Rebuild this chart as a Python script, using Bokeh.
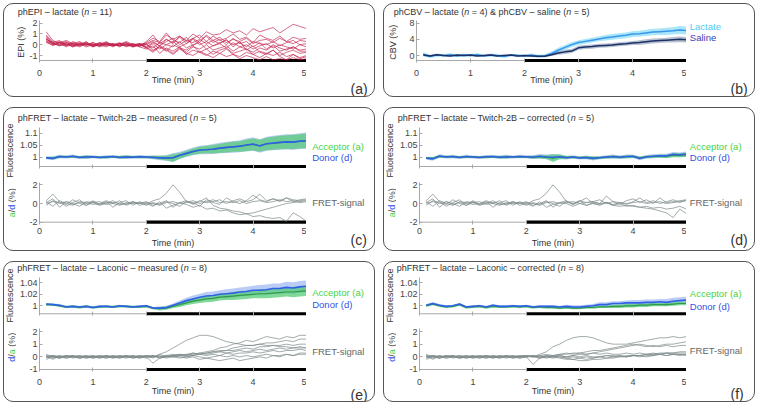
import math
from bokeh.plotting import figure
from bokeh.models import Range1d, FixedTicker, CustomJSTickFormatter, Label, Span
from bokeh.layouts import column, row
from bokeh.embed import file_html
from bokeh.resources import INLINE

# ---------------- data ----------------
T = [0.125, 0.25, 0.375, 0.5, 0.625, 0.75, 0.875, 1.0, 1.125, 1.25,
     1.375, 1.5, 1.625, 1.75, 1.875, 2.0, 2.125, 2.25, 2.375, 2.5,
     2.625, 2.75, 2.875, 3.0, 3.125, 3.25, 3.375, 3.5, 3.625, 3.75,
     3.875, 4.0, 4.125, 4.25, 4.375, 4.5, 4.625, 4.75, 4.875, 5.0]
STIM = [2.0, 5.0]
XTICKS = [0, 1, 2, 3, 4, 5]

# (a) phEPI - lactate, 11 animals, EPI (%)
EPI_1 = [0.9, 0.3, 0.2, 0.4, 0.1, 0.3, -0.1, 0.2, 0.0, 0.3, -0.1, 0.1, 0.2, -0.2, 0.0,
         0.1, 0.4, 0.2, 0.9, 0.5, 0.8, 0.4, 1.0, 0.6, 1.2, 0.9, 1.0, 1.4, 1.1, 1.3, 0.9, 1.5, 1.2, 1.4, 1.6, 1.1, 1.5, 1.9, 1.7, 1.5]
EPI_2 = [0.5, 0.2, 0.4, -0.1, 0.2, 0.0, 0.3, -0.2, 0.1, 0.2, -0.1, 0.0, 0.3, 0.0, -0.2,
         0.3, 0.9, 0.1, 0.5, 0.2, 0.7, 0.1, 0.6, 0.9, 0.3, 0.8, 0.4, 0.6, 1.0, 0.5, 0.7, 0.2, 0.9, 0.6, 0.4, 0.8, 0.3, 0.7, 0.5, 0.6]
EPI_3 = [1.2, 0.4, 0.1, 0.3, 0.0, 0.2, 0.1, -0.1, 0.2, 0.0, 0.1, -0.2, 0.1, 0.0, 0.1,
         -0.2, 0.2, -0.1, 0.3, 0.6, 0.0, 0.4, 0.2, 0.5, 0.1, 0.4, 0.7, 0.2, 0.5, 0.3, 0.6, 0.1, 0.4, 0.5, 0.2, 0.6, 0.3, 0.1, 0.4, 0.3]
EPI_4 = [0.6, 0.0, 0.3, 0.1, -0.2, 0.1, 0.0, 0.2, -0.1, 0.1, 0.0, 0.2, -0.1, 0.1, -0.1,
         0.0, -0.3, 0.2, 0.0, 0.3, -0.2, 0.1, 0.5, 0.0, 0.3, -0.1, 0.2, 0.4, 0.0, 0.2, -0.2, 0.3, 0.1, 0.0, 0.3, -0.1, 0.2, 0.4, 0.0, 0.1]
EPI_5 = [0.4, 0.1, -0.1, 0.2, 0.0, -0.2, 0.1, 0.0, -0.1, 0.2, 0.0, -0.1, 0.1, -0.2, 0.0,
         -0.3, 0.1, -0.4, 0.0, -0.2, 0.3, -0.3, 0.0, 0.2, -0.4, -0.1, 0.1, -0.3, 0.2, -0.2, 0.0, -0.4, -0.1, 0.1, -0.3, 0.0, -0.2, -0.4, 0.0, -0.2]
EPI_6 = [0.3, -0.1, 0.2, 0.0, -0.1, 0.1, -0.2, 0.0, 0.1, -0.1, 0.0, 0.1, -0.2, 0.0, -0.1,
         0.1, -0.5, -0.2, -0.6, 0.0, -0.3, -0.7, -0.2, -0.4, 0.0, -0.5, -0.3, -0.1, -0.6, -0.2, -0.4, -0.7, -0.3, -0.5, -0.1, -0.6, -0.4, -0.2, -0.5, -0.4]
EPI_7 = [0.8, 0.2, 0.0, -0.1, 0.3, 0.0, 0.1, -0.2, 0.0, 0.1, -0.1, 0.0, 0.2, -0.1, 0.0,
         -0.2, -0.6, -0.1, -0.4, -0.8, -0.3, -0.5, -0.1, -0.7, -0.4, -0.9, -0.5, -0.3, -0.8, -0.6, -0.4, -0.9, -0.6, -0.8, -0.5, -1.0, -0.7, -0.5, -0.8, -0.7]
EPI_8 = [0.2, 0.0, 0.2, -0.2, 0.1, -0.1, 0.0, 0.1, -0.2, 0.0, 0.1, -0.1, 0.0, 0.1, -0.2,
         -0.4, -0.1, -0.8, -0.3, -0.6, -0.2, -0.9, -0.5, -0.7, -1.0, -0.6, -0.8, -0.4, -0.9, -1.1, -0.7, -0.9, -1.2, -0.8, -1.0, -0.7, -1.1, -0.9, -1.2, -1.0]
EPI_9 = [0.5, 0.2, -0.1, 0.1, -0.2, 0.0, 0.2, -0.1, 0.0, -0.2, 0.1, -0.1, 0.0, -0.2, 0.1,
         -0.3, -0.7, -0.2, -0.5, -0.9, -0.4, -0.8, -1.0, -0.6, -0.9, -1.2, -0.8, -1.1, -0.9, -1.3, -1.0, -1.2, -1.4, -1.1, -1.4, -1.3, -1.4, -1.2, -1.4, -1.3]
EPI_10 = [0.7, 0.1, 0.2, 0.0, 0.1, -0.1, 0.2, 0.0, -0.1, 0.1, -0.2, 0.1, 0.0, -0.1, 0.0,
          0.2, 0.6, 0.3, 1.1, 0.4, 0.2, 0.7, -0.1, 0.4, 0.8, 0.2, 0.5, 0.0, 0.6, 0.1, 0.3, -0.2, 0.2, -0.4, 0.0, -0.3, -0.5, -0.2, -0.6, -0.6]
EPI_11 = [0.3, 0.1, 0.0, 0.2, -0.1, 0.1, 0.0, -0.1, 0.2, 0.0, -0.1, 0.1, -0.1, 0.0, 0.1,
          0.0, 0.3, -0.1, 0.5, 0.1, 0.8, 0.3, 0.6, 0.2, 0.9, 0.4, 0.1, 0.5, -0.2, 0.3, -0.5, -0.1, -0.7, -0.9, -0.5, -1.1, -1.4, -0.9, -1.3, -1.1]
EPI = [EPI_1, EPI_2, EPI_3, EPI_4, EPI_5, EPI_6, EPI_7, EPI_8, EPI_9, EPI_10, EPI_11]

# (b) phCBV - lactate (n=4) and saline (n=5): mean and SEM, CBV (%)
LAC = [0.3, -0.2, 0.1, 0.0, 0.2, -0.1, 0.1, 0.0, 0.2, -0.1, 0.1, 0.0, -0.2, 0.1, 0.0, -0.1, 0.1, -0.2, -0.1,
       0.5, 1.3, 2.0, 2.7, 3.2, 3.5, 3.8, 4.1, 4.4, 4.6, 4.8, 5.0, 5.3, 5.4, 5.6, 5.8, 5.9, 6.0, 6.1, 6.3, 6.2]
LAC_SE = [0.5, 0.4, 0.4, 0.3, 0.4, 0.3, 0.4, 0.3, 0.4, 0.3, 0.4, 0.3, 0.4, 0.3, 0.4, 0.3, 0.4, 0.4, 0.4,
          0.5, 0.6, 0.6, 0.6, 0.6, 0.6, 0.6, 0.6, 0.7, 0.7, 0.7, 0.7, 0.7, 0.7, 0.8, 0.8, 0.8, 0.9, 0.9, 1.0, 1.0]
SAL = [0.1, -0.1, 0.2, 0.0, -0.1, 0.1, 0.0, 0.1, -0.1, 0.0, 0.1, -0.1, 0.0, 0.1, -0.1, 0.0, -0.1, -0.2, -0.2,
       0.2, 0.6, 0.9, 1.1, 1.9, 2.1, 2.2, 2.4, 2.5, 2.6, 2.8, 2.9, 3.1, 3.2, 3.4, 3.6, 3.7, 3.8, 3.9, 4.0, 3.9]
SAL_SE = [0.2, 0.2, 0.2, 0.2, 0.2, 0.2, 0.2, 0.2, 0.2, 0.2, 0.2, 0.2, 0.2, 0.2, 0.2, 0.2, 0.2, 0.2, 0.2,
          0.3, 0.4, 0.5, 0.5, 0.5, 0.5, 0.5, 0.5, 0.5, 0.5, 0.5, 0.5, 0.5, 0.6, 0.6, 0.6, 0.6, 0.6, 0.7, 0.7, 0.7]

# (c) Twitch-2B measured: fluorescence mean / SEM
C_DON = [0.997, 0.995, 1.003, 1.001, 1.004, 0.999, 1.001, 1.002, 0.999, 1.001, 1.003, 0.999, 1.001, 1.000, 1.002, 1.001, 0.999, 0.997, 0.997,
         0.998, 1.008, 1.016, 1.024, 1.030, 1.031, 1.034, 1.038, 1.041, 1.043, 1.046, 1.051, 1.055, 1.047, 1.056, 1.059, 1.062, 1.064, 1.063, 1.067, 1.069]
C_ACC = [0.998, 0.996, 1.002, 1.002, 1.003, 1.000, 1.001, 1.001, 1.000, 1.000, 1.002, 1.000, 1.001, 1.001, 1.001, 1.000, 1.000, 0.998, 0.996,
         0.997, 1.006, 1.015, 1.023, 1.029, 1.032, 1.033, 1.037, 1.040, 1.044, 1.045, 1.050, 1.053, 1.048, 1.055, 1.058, 1.061, 1.063, 1.064, 1.066, 1.068]
C_ACC_SE = [0.004, 0.006, 0.005, 0.004, 0.005, 0.004, 0.006, 0.004, 0.004, 0.005, 0.004, 0.005, 0.006, 0.004, 0.005, 0.004, 0.006, 0.008, 0.010,
            0.016, 0.012, 0.012, 0.013, 0.015, 0.016, 0.018, 0.019, 0.020, 0.021, 0.022, 0.024, 0.025, 0.025, 0.026, 0.027, 0.028, 0.029, 0.030, 0.030, 0.031]
C_DON_SE = [0.006, 0.008, 0.007, 0.006, 0.007, 0.006, 0.008, 0.006, 0.006, 0.007, 0.006, 0.007, 0.008, 0.006, 0.007, 0.006, 0.008, 0.010, 0.012,
            0.018, 0.015, 0.015, 0.016, 0.018, 0.019, 0.021, 0.022, 0.023, 0.024, 0.025, 0.027, 0.028, 0.028, 0.029, 0.030, 0.031, 0.032, 0.033, 0.033, 0.034]
# (c) FRET-signal a/d (%)
C_R1 = [0.3, 1.0, 0.2, -0.3, 0.1, 0.4, -0.2, 0.3, -0.1, 0.2, -0.4, 0.1, 0.3, -0.2, 0.2,
        -0.1, 0.3, 0.5, 1.1, 2.0, 1.2, 0.2, 0.1, -0.3, 0.4, 0.1, -0.1, 0.6, 0.2, 0.0, 0.3, 0.9, 0.4, 0.2, 0.5, 0.3, 0.6, 0.2, 0.4, 0.5]
C_R2 = [0.1, 0.5, -0.4, 0.2, 0.0, -0.3, 0.2, 0.1, -0.2, 0.0, 0.3, -0.1, 0.0, 0.2, -0.2,
        0.0, -0.3, 0.2, -0.5, -0.2, 0.1, -0.1, -0.4, -0.2, -0.6, -0.5, -0.8, -0.7, -1.0, -1.2, -1.1, -1.4, -1.3, -1.5, -1.6, -1.5, -1.9, -1.0, -1.4, -1.9]
C_R3 = [-0.2, 0.3, 0.1, -0.1, 0.4, 0.0, -0.2, 0.1, 0.2, -0.1, 0.0, 0.3, -0.2, 0.1, 0.0,
        0.2, -0.2, 0.0, 0.3, -0.4, 0.1, 0.3, -0.1, 0.2, 0.6, -0.2, -0.5, -0.6, -0.8, -0.9, -1.1, -1.0, -0.8, -0.6, -0.4, -0.2, 0.0, 0.1, 0.2, 0.3]
C_R4 = [0.2, -0.3, 0.3, 0.0, -0.2, 0.2, 0.1, -0.1, 0.0, 0.3, 0.0, -0.2, 0.1, 0.0, 0.1,
        -0.2, 0.1, -0.1, 0.2, 0.0, -0.3, 0.2, 0.0, 0.3, 0.1, 0.2, 0.4, 0.0, 0.3, 0.5, 0.2, 0.4, 1.0, 0.3, 0.5, 0.2, 0.6, 0.4, 0.3, 0.4]
C_R5 = [0.0, 0.2, 0.0, 0.2, -0.1, 0.1, 0.0, 0.2, -0.1, 0.1, 0.1, 0.0, -0.1, 0.2, 0.0,
        0.1, 0.0, -0.2, 0.1, 0.2, 0.0, 0.1, 0.3, 0.0, 0.2, 0.4, 0.1, 0.2, 0.1, 0.3, 0.0, 0.2, 0.3, 0.1, 0.2, 0.4, 0.2, 0.3, 0.1, 0.2]
C_RATIO = [C_R1, C_R2, C_R3, C_R4, C_R5]

# (d) Twitch-2B corrected
D_DON = [0.996, 0.993, 1.005, 1.001, 1.003, 0.999, 1.003, 1.001, 0.999, 1.002, 1.003, 1.000, 1.002, 1.001, 1.003, 1.002, 1.000, 1.004, 1.001,
         1.000, 1.002, 0.998, 1.001, 0.997, 0.999, 0.995, 0.998, 1.001, 1.003, 1.000, 1.003, 1.004, 0.995, 1.002, 1.004, 1.006, 1.005, 1.012, 1.010, 1.013]
D_ACC = [0.997, 0.995, 1.003, 1.002, 1.002, 1.000, 1.002, 1.001, 1.000, 1.001, 1.002, 1.000, 1.001, 1.001, 1.002, 1.001, 1.000, 1.002, 1.000,
         0.996, 1.001, 0.999, 1.000, 0.998, 0.999, 0.996, 0.998, 1.000, 1.002, 1.000, 1.002, 1.003, 0.997, 1.001, 1.003, 1.004, 1.004, 1.008, 1.008, 1.010]
D_ACC_SE = [0.004, 0.006, 0.005, 0.004, 0.005, 0.004, 0.005, 0.004, 0.004, 0.005, 0.004, 0.005, 0.006, 0.004, 0.005, 0.004, 0.006, 0.007, 0.008,
            0.016, 0.010, 0.006, 0.005, 0.005, 0.006, 0.007, 0.005, 0.005, 0.006, 0.005, 0.006, 0.005, 0.006, 0.005, 0.006, 0.006, 0.007, 0.008, 0.008, 0.009]
D_DON_SE = [0.006, 0.008, 0.007, 0.006, 0.007, 0.006, 0.007, 0.006, 0.006, 0.007, 0.006, 0.007, 0.008, 0.006, 0.007, 0.006, 0.008, 0.009, 0.010,
            0.012, 0.010, 0.008, 0.007, 0.007, 0.008, 0.009, 0.007, 0.007, 0.008, 0.007, 0.008, 0.007, 0.008, 0.007, 0.008, 0.008, 0.009, 0.010, 0.010, 0.011]
D_R1 = [0.3, 1.0, 0.2, -0.3, 0.1, 0.4, -0.2, 0.3, -0.1, 0.2, -0.4, 0.1, 0.3, -0.2, 0.2,
        -0.1, 0.3, 0.5, 1.1, 2.0, 1.2, 0.2, -0.1, 0.3, -0.2, 0.1, 0.0, 0.8, 0.2, -0.1, 0.3, 0.5, 0.1, 0.4, 0.0, 0.6, 0.1, 0.2, 0.3, 0.4]
D_R2 = [0.1, 0.5, -0.4, 0.2, 0.0, -0.3, 0.2, 0.1, -0.2, 0.0, 0.3, -0.1, 0.0, 0.2, -0.2,
        0.0, -0.3, 0.2, -0.4, -0.1, 0.1, 0.0, -0.3, 0.0, -0.2, 0.0, -0.2, 0.1, -0.2, -0.3, -0.2, -0.3, -0.4, -0.5, -0.6, -0.8, -1.0, -1.5, -0.6, -1.1]
D_R3 = [-0.2, 0.3, 0.1, -0.1, 0.4, 0.0, -0.2, 0.1, 0.2, -0.1, 0.0, 0.3, -0.2, 0.1, 0.0,
        0.2, -0.2, 0.0, 0.3, -0.4, 0.1, 0.3, -0.1, 0.2, 0.6, 0.0, -0.1, 0.1, -0.2, 0.0, -0.3, -0.2, -0.4, -0.3, -0.5, -0.4, -0.6, -0.5, -0.3, -0.6]
D_R4 = [0.2, -0.3, 0.3, 0.0, -0.2, 0.2, 0.1, -0.1, 0.0, 0.3, 0.0, -0.2, 0.1, 0.0, 0.1,
        -0.2, 0.1, -0.1, 0.2, 0.0, -0.3, 0.2, 0.0, 0.3, 0.1, 0.2, 0.4, 0.0, 0.2, 0.1, -0.1, 0.2, 0.6, 0.1, 0.3, 0.0, 0.2, 0.4, 0.1, 0.4]
D_R5 = [0.0, 0.2, 0.0, 0.2, -0.1, 0.1, 0.0, 0.2, -0.1, 0.1, 0.1, 0.0, -0.1, 0.2, 0.0,
        0.1, 0.0, -0.2, 0.1, 0.2, 0.0, 0.1, 0.2, 0.0, 0.1, 0.2, 0.0, 0.1, -0.1, 0.1, 0.0, 0.1, 0.2, 0.0, 0.1, 0.2, 0.0, 0.1, 0.2, 0.3]
D_RATIO = [D_R1, D_R2, D_R3, D_R4, D_R5]

# (e) Laconic measured
E_DON = [1.003, 1.002, 1.001, 0.998, 0.999, 0.998, 0.999, 0.997, 0.999, 0.999, 0.998, 1.000, 0.999, 0.998, 0.999, 1.000, 0.996, 0.996, 0.997,
         1.001, 1.005, 1.009, 1.012, 1.015, 1.017, 1.018, 1.020, 1.021, 1.022, 1.024, 1.025, 1.027, 1.027, 1.028, 1.030, 1.030, 1.032, 1.031, 1.033, 1.034]
E_ACC = [1.002, 1.002, 1.000, 0.998, 0.999, 0.997, 0.999, 0.997, 0.998, 0.999, 0.998, 0.999, 0.999, 0.998, 0.998, 0.999, 0.996, 0.995, 0.996,
         0.999, 1.002, 1.005, 1.008, 1.010, 1.012, 1.013, 1.015, 1.016, 1.017, 1.018, 1.019, 1.020, 1.021, 1.021, 1.022, 1.023, 1.024, 1.024, 1.025, 1.026]
E_DON_SE = [0.002, 0.002, 0.002, 0.002, 0.002, 0.002, 0.002, 0.002, 0.002, 0.002, 0.002, 0.002, 0.002, 0.002, 0.002, 0.002, 0.002, 0.003, 0.003,
            0.003, 0.004, 0.005, 0.006, 0.006, 0.007, 0.007, 0.007, 0.008, 0.008, 0.008, 0.008, 0.008, 0.009, 0.009, 0.009, 0.009, 0.010, 0.010, 0.010, 0.010]
E_ACC_SE = [0.002, 0.002, 0.002, 0.002, 0.002, 0.002, 0.002, 0.002, 0.002, 0.002, 0.002, 0.002, 0.002, 0.002, 0.002, 0.002, 0.002, 0.003, 0.003,
            0.003, 0.004, 0.004, 0.005, 0.005, 0.006, 0.006, 0.006, 0.006, 0.007, 0.007, 0.007, 0.007, 0.008, 0.008, 0.008, 0.008, 0.008, 0.009, 0.009, 0.009]
E_R1 = [0.1, -0.2, 0.1, 0.0, 0.1, -0.1, 0.0, 0.1, 0.0, -0.1, 0.1, 0.0, 0.1, -0.1, 0.0,
        0.1, -0.1, 0.2, 0.4, 0.7, 1.0, 1.3, 1.5, 1.7, 1.7, 1.6, 1.4, 1.2, 1.1, 1.0, 0.9, 0.9, 1.0, 0.9, 0.9, 0.8, 0.8, 0.7, 0.8, 0.7]
E_R2 = [0.0, 0.1, -0.1, 0.1, 0.0, 0.1, -0.1, 0.0, 0.1, 0.0, -0.1, 0.1, 0.0, 0.1, 0.0,
        0.0, -0.5, -0.1, 0.1, 0.0, 0.1, 0.2, 0.1, 0.3, 0.4, 0.5, 0.7, 0.8, 1.0, 1.1, 1.3, 1.2, 1.4, 1.6, 1.5, 1.4, 1.6, 1.5, 1.7, 1.7]
E_R3 = [-0.2, 0.0, 0.1, -0.1, 0.0, 0.0, 0.1, -0.1, 0.0, 0.1, -0.1, 0.0, 0.0, 0.1, -0.1,
        0.0, 0.1, -0.1, 0.0, 0.1, 0.2, 0.1, 0.3, 0.2, 0.3, 0.4, 0.5, 0.5, 0.7, 0.8, 0.9, 0.9, 1.0, 1.1, 1.1, 1.2, 1.3, 1.2, 1.4, 1.4]
E_R4 = [0.1, 0.0, -0.1, 0.1, 0.0, -0.1, 0.0, 0.1, -0.1, 0.0, 0.1, 0.0, -0.1, 0.0, 0.1,
        0.0, 0.1, 0.0, 0.1, 0.2, 0.1, 0.2, 0.3, 0.2, 0.3, 0.4, 0.4, 0.5, 0.5, 0.6, 0.7, 0.6, 0.8, 0.8, 0.9, 0.9, 1.0, 0.9, 1.0, 1.0]
E_R5 = [-0.1, 0.1, 0.0, 0.0, 0.1, 0.0, -0.1, 0.0, 0.1, 0.0, 0.0, -0.1, 0.1, 0.0, 0.0,
        0.1, 0.0, 0.2, 0.0, 0.1, 0.2, 0.1, 0.2, 0.3, 0.2, 0.3, 0.4, 0.3, 0.4, 0.5, 0.4, 0.5, 0.6, 0.5, 0.6, 0.7, 0.6, 0.7, 0.7, 0.7]
E_R6 = [0.0, -0.1, 0.0, 0.1, -0.1, 0.0, 0.1, 0.0, 0.0, -0.1, 0.0, 0.1, 0.0, -0.1, 0.0,
        -0.1, 0.0, 0.1, -0.1, 0.0, 0.1, 0.0, 0.1, 0.2, 0.1, 0.2, 0.1, 0.3, 0.2, 0.3, 0.3, 0.4, 0.3, 0.4, 0.5, 0.4, 0.5, 0.5, 0.6, 0.5]
E_R7 = [0.2, 0.0, -0.1, 0.0, 0.1, -0.1, 0.0, -0.1, 0.0, 0.1, 0.0, -0.1, 0.0, 0.0, 0.1,
        0.0, 0.1, -0.1, 0.0, 0.1, 0.0, -0.1, 0.0, -0.2, -0.1, -0.2, -0.3, -0.2, -0.1, -0.3, -0.2, -0.1, 0.0, -0.1, 0.1, 0.0, 0.2, 0.1, 0.3, 0.3]
E_R8 = [0.0, 0.1, 0.0, -0.1, 0.0, 0.1, 0.0, 0.0, -0.1, 0.1, 0.0, 0.0, 0.1, 0.0, -0.1,
        0.1, 0.0, 0.0, 0.1, 0.0, -0.1, 0.0, 0.1, 0.0, -0.1, 0.0, 0.1, 0.0, 0.1, 0.0, 0.1, 0.0, 0.1, 0.2, 0.1, 0.1, 0.2, 0.1, 0.2, 0.2]
E_RATIO = [E_R1, E_R2, E_R3, E_R4, E_R5, E_R6, E_R7, E_R8]

# (f) Laconic corrected
F_DON = [1.001, 1.004, 1.001, 0.999, 1.000, 1.003, 0.998, 0.999, 1.000, 0.998, 1.001, 0.999, 0.999, 1.000, 0.999, 1.000, 0.998, 0.999, 0.999,
         0.999, 0.998, 0.999, 0.998, 0.998, 0.999, 1.000, 1.002, 1.002, 1.004, 1.004, 1.005, 1.005, 1.005, 1.006, 1.006, 1.007, 1.006, 1.008, 1.009, 1.010]
F_ACC = [1.000, 1.003, 1.000, 0.998, 0.999, 1.002, 0.997, 0.998, 0.999, 0.997, 0.999, 0.998, 0.998, 0.999, 0.998, 0.999, 0.997, 0.998, 0.997,
         0.997, 0.996, 0.997, 0.996, 0.996, 0.997, 0.997, 0.998, 0.998, 0.999, 0.999, 1.000, 1.000, 1.001, 1.001, 1.002, 1.002, 1.002, 1.003, 1.004, 1.004]
F_DON_SE = [0.002, 0.002, 0.002, 0.002, 0.002, 0.002, 0.002, 0.002, 0.002, 0.002, 0.002, 0.002, 0.002, 0.002, 0.002, 0.002, 0.002, 0.002, 0.002,
            0.002, 0.002, 0.003, 0.003, 0.003, 0.003, 0.003, 0.004, 0.004, 0.004, 0.004, 0.004, 0.005, 0.005, 0.005, 0.005, 0.005, 0.006, 0.006, 0.006, 0.006]
F_ACC_SE = [0.002, 0.002, 0.002, 0.002, 0.002, 0.002, 0.002, 0.002, 0.002, 0.002, 0.002, 0.002, 0.002, 0.002, 0.002, 0.002, 0.002, 0.002, 0.002,
            0.002, 0.002, 0.002, 0.002, 0.002, 0.002, 0.002, 0.002, 0.002, 0.003, 0.003, 0.003, 0.003, 0.003, 0.003, 0.003, 0.003, 0.003, 0.003, 0.003, 0.003]
F_R1 = [0.1, -0.2, 0.1, 0.0, 0.1, -0.1, 0.0, 0.1, 0.0, -0.1, 0.1, 0.0, 0.1, -0.1, 0.0,
        0.1, 0.0, 0.2, 0.4, 0.8, 1.0, 1.3, 1.5, 1.6, 1.6, 1.5, 1.3, 1.1, 1.0, 1.0, 1.0, 1.1, 1.2, 1.3, 1.4, 1.5, 1.5, 1.6, 1.5, 1.6]
F_R2 = [0.0, 0.1, -0.1, 0.1, 0.0, 0.1, -0.1, 0.0, 0.1, 0.0, -0.1, 0.1, 0.0, 0.1, 0.0,
        0.0, -0.6, -0.1, 0.1, 0.0, 0.1, 0.0, 0.1, 0.2, 0.2, 0.3, 0.4, 0.5, 0.6, 0.7, 0.8, 0.9, 1.0, 0.9, 0.8, 0.9, 1.0, 1.0, 1.1, 1.2]
F_R3 = [-0.2, 0.0, 0.1, -0.1, 0.0, 0.0, 0.1, -0.1, 0.0, 0.1, -0.1, 0.0, 0.0, 0.1, -0.1,
        0.0, 0.1, -0.1, 0.0, 0.1, 0.2, 0.2, 0.3, 0.3, 0.4, 0.5, 0.5, 0.6, 0.7, 0.8, 0.9, 1.0, 0.9, 0.8, 0.9, 0.8, 0.9, 0.8, 0.9, 0.9]
F_R4 = [0.1, 0.0, -0.1, 0.1, 0.0, -0.1, 0.0, 0.1, -0.1, 0.0, 0.1, 0.0, -0.1, 0.0, 0.1,
        0.0, 0.1, 0.0, -0.1, 0.0, -0.1, -0.2, -0.2, -0.3, -0.3, -0.2, -0.2, -0.1, -0.1, 0.0, 0.0, 0.1, 0.1, 0.2, 0.2, 0.3, 0.3, 0.3, 0.4, 0.4]
F_R5 = [-0.1, 0.1, 0.0, 0.0, 0.1, 0.0, -0.1, 0.0, 0.1, 0.0, 0.0, -0.1, 0.1, 0.0, 0.0,
        0.1, 0.0, 0.1, 0.0, -0.1, 0.0, -0.1, 0.0, -0.1, -0.2, -0.1, 0.0, -0.1, 0.0, 0.1, 0.0, 0.1, 0.1, 0.2, 0.2, 0.2, 0.3, 0.3, 0.3, 0.3]
F_R6 = [0.0, -0.1, 0.0, 0.1, -0.1, 0.0, 0.1, 0.0, 0.0, -0.1, 0.0, 0.1, 0.0, -0.1, 0.0,
        0.0, 0.0, 0.1, 0.2, 0.1, 0.2, 0.3, 0.2, 0.3, 0.2, 0.3, 0.2, 0.3, 0.2, 0.2, 0.3, 0.2, 0.3, 0.2, 0.3, 0.2, 0.3, 0.2, 0.2, 0.2]
F_R7 = [0.2, 0.0, -0.1, 0.0, 0.1, -0.1, 0.0, -0.1, 0.0, 0.1, 0.0, -0.1, 0.0, 0.0, 0.1,
        0.1, 0.0, -0.1, 0.0, 0.1, 0.0, -0.1, -0.2, -0.1, 0.0, -0.1, 0.0, 0.1, 0.0, 0.1, 0.0, 0.1, 0.1, 0.0, 0.1, 0.2, 0.1, 0.2, 0.1, 0.2]
F_R8 = [0.0, 0.1, 0.0, -0.1, 0.0, 0.1, 0.0, 0.0, -0.1, 0.1, 0.0, 0.0, 0.1, 0.0, -0.1,
        0.0, 0.1, 0.0, 0.1, 0.0, 0.1, 0.0, 0.1, 0.0, 0.1, 0.0, 0.0, 0.1, 0.1, 0.0, 0.1, 0.1, 0.0, 0.1, 0.1, 0.2, 0.1, 0.2, 0.2, 0.1]
F_RATIO = [F_R1, F_R2, F_R3, F_R4, F_R5, F_R6, F_R7, F_R8]

# ---------------- styling helpers ----------------
FONT = "Liberation Sans"
FW = 270           # plot frame width in px (0..5 min)
AXC = "#a8a8a8"
TXT = "#333333"
GREEN_T = "#45d445"
BLUE_T = "#3350e6"
AW = {" ": 278, "(": 333, ")": 333, "=": 584, "\u2013": 556, "-": 333, "&": 667, "/": 278, "%": 889,
      "A": 667, "B": 667, "C": 722, "E": 667, "F": 611, "I": 278, "L": 556, "P": 667, "R": 722,
      "S": 667, "T": 611, "V": 667, "a": 556, "b": 556, "c": 500, "d": 556, "e": 556, "g": 556,
      "h": 556, "i": 222, "k": 500, "l": 222, "m": 833, "n": 556, "o": 556, "p": 556, "r": 333,
      "s": 500, "t": 278, "u": 556, "w": 722, "x": 500}


def tw(s, size):
    return sum(AW.get(ch, 556) for ch in s) * size / 1000.0


def new_fig(mbl, height, mt, mb, yr, yticks, ybounds, xlabels, xstand=5, tstand=0):
    p = figure(width=mbl + FW, height=height, x_range=Range1d(0, 5), y_range=Range1d(*yr),
               output_backend="svg", toolbar_location=None,
               min_border_left=mbl, min_border_right=0, min_border_top=mt, min_border_bottom=mb)
    p.border_fill_color = None
    p.background_fill_color = None
    p.outline_line_color = None
    p.xgrid.visible = False
    p.ygrid.visible = False
    ya = p.yaxis[0]
    ya.ticker = FixedTicker(ticks=yticks)
    ya.formatter = CustomJSTickFormatter(code="return String(Math.round(tick * 1000) / 1000);")
    ya.bounds = ybounds
    ya.axis_line_color = AXC
    ya.major_tick_line_color = AXC
    ya.major_tick_in = 3
    ya.major_tick_out = 0
    ya.minor_tick_line_color = None
    ya.major_label_standoff = 2
    ya.major_label_text_font = FONT
    ya.major_label_text_font_size = "9px"
    ya.major_label_text_color = "#444444"
    xa = p.xaxis[0]
    xa.ticker = FixedTicker(ticks=XTICKS)
    xa.axis_line_color = None
    xa.major_tick_line_color = AXC
    xa.major_tick_in = 4
    xa.major_tick_out = 0
    xa.minor_tick_line_color = None
    if xlabels:
        xa.major_label_standoff = xstand
        xa.major_label_text_font = FONT
        xa.major_label_text_font_size = "9px"
        xa.major_label_text_color = "#444444"
        xa.axis_label = "Time (min)"
        xa.axis_label_text_font = FONT
        xa.axis_label_text_font_size = "9px"
        xa.axis_label_text_font_style = "normal"
        xa.axis_label_text_color = TXT
        xa.axis_label_standoff = tstand
    else:
        xa.formatter = CustomJSTickFormatter(code="return '';")
        xa.major_label_standoff = 0
    p.add_layout(Span(location=ybounds[0], dimension="width", line_color=AXC, line_width=1, level="underlay"))
    p.line(STIM, [ybounds[0], ybounds[0]], line_color="black", line_width=3.2)
    return p


def strip(w, h):
    """a text-only canvas whose frame covers it entirely; coordinates are its own pixels"""
    p = figure(width=w, height=h, x_range=Range1d(0, w), y_range=Range1d(0, h),
               output_backend="svg", toolbar_location=None,
               x_axis_location=None, y_axis_location=None,
               min_border_left=0, min_border_right=0, min_border_top=0, min_border_bottom=0)
    p.grid.visible = False
    p.outline_line_color = None
    p.background_fill_color = None
    p.border_fill_color = None
    return p


def put(p, lx, ly, text, color=TXT, size=9, style="normal", align="left", angle=0.0):
    h = p.height
    p.add_layout(Label(x=lx, y=h - ly, text=text, text_font=FONT, text_font_size=f"{size}px",
                       text_font_style=style, text_color=color, text_align=align,
                       text_baseline="middle", angle=angle))


def rich(p, lx, ly, parts, size=9):
    x = lx
    for s, style in parts:
        lead = len(s) - len(s.lstrip(" "))
        put(p, x + tw(" " * lead, size), ly, s.strip(" "), TXT, size, style)
        x += tw(s, size)


def rich_v(p, cx, cy, parts, size=9):
    total = sum(tw(s, size) for s, _ in parts)
    y = cy + total / 2.0           # bottom end of the text, in strip pixels
    for s, color in parts:
        lead = len(s) - len(s.lstrip(" "))
        put(p, cx, y - tw(" " * lead, size), s.strip(" "), color, size, angle=math.pi / 2)
        y -= tw(s, size)


def band(p, mean, se, color, alpha):
    lo = [m - e for m, e in zip(mean, se)]
    hi = [m + e for m, e in zip(mean, se)]
    p.varea(x=T, y1=lo, y2=hi, fill_color=color, fill_alpha=alpha)


def box(*items):
    return column(*items)


BOX = {"border": "1px solid #555555", "border-radius": "10px"}


def title_parts(head, n):
    return [(head + " (", "normal"), ("n", "italic"), (" = %s)" % n, "normal")]


# ---------------- panel (a) ----------------
fa = new_fig(10, 78, 0, 34, (-1.650, 2.436), [-1, 0, 1, 2], (-1.464, 2.25), True, 7, -4)
for tr in EPI:
    fa.line(T, tr, line_color="#c4244f", line_width=0.9, line_alpha=0.75)
ta = strip(370, 14)
rich(ta, 13.3, 7.7, title_parts("phEPI \u2013 lactate", 11))
la = strip(22, 78)
put(la, 16, 23.7, "EPI (%)", angle=math.pi / 2, align="center")
ra = strip(68, 78)
put(ra, 44, 70, "(a)", size=14)
panel_a = column(box(ta), row(box(la), box(fa), box(ra)), styles=BOX)

# ---------------- panel (b) ----------------
fb_ = new_fig(18, 78, 0, 34, (-1.733, 9.163), [0, 4, 8], (-1.238, 8.67), True, 7, -4)
band(fb_, LAC, LAC_SE, "#9fe3f7", 0.9)
band(fb_, SAL, SAL_SE, "#7d8ea8", 0.55)
fb_.line(T, LAC, line_color="#3a96ea", line_width=1.5)
fb_.line(T, SAL, line_color="#1c2f66", line_width=1.5)
tb = strip(370, 14)
rich(tb, 9.3, 7.7, [("phCBV \u2013 lactate (", "normal"), ("n", "italic"),
                    (" = 4) & phCBV \u2013 saline (", "normal"), ("n", "italic"), (" = 5)", "normal")])
lb_ = strip(14, 78)
put(lb_, 8.5, 23.7, "CBV (%)", angle=math.pi / 2, align="center")
rb = strip(68, 78)
put(rb, 3.3, 7.7, "Lactate", color="#4fcaf2", size=9.5)
put(rb, 3.3, 19.3, "Saline", color="#3342b8", size=9.5)
put(rb, 44, 70, "(b)", size=14)
panel_b = column(box(tb), row(box(lb_), box(fb_), box(rb)), styles=BOX)

# ---------------- FRET panels ----------------
AD = [("a", GREEN_T), ("/", "#444444"), ("d", BLUE_T), (" (%)", "#444444")]
DA = [("d", BLUE_T), ("/", "#444444"), ("a", GREEN_T), (" (%)", "#444444")]


def fret_panel(kind, title, tx, don, don_se, acc, acc_se, ratios, ratio_parts, letter, legx, pos):
    if kind == "twitch":
        up = new_fig(20, 56, 2, 12, (0.9529, 1.128), [1, 1.05, 1.1], (0.9613, 1.124), False)
        lo = new_fig(20, 70, 1, 26, (-2.246, 2.353), [-2, 0, 2], (-2, 2.246), True, 3, 1)
        th, total_h = 16, 142
    else:
        up = new_fig(20, 51, 1, 11, (0.9831, 1.051), [1, 1.02, 1.04], (0.9861, 1.0494), False)
        lo = new_fig(20, 75, 1, 30, (-1.158, 2.316), [-1, 0, 1, 2], (-1, 2.24), True, 7, -2)
        th, total_h = 13, 139
    band(up, don, don_se, "#aec3f3", 0.85)
    band(up, acc, acc_se, "#55cc77", 0.75)
    up.line(T, acc, line_color="#2f9a48", line_width=1.2)
    up.line(T, don, line_color="#2f60e6", line_width=1.6)
    for tr in ratios:
        lo.line(T, tr, line_color="#7d8a8a", line_width=0.8, line_alpha=0.9)
    left = strip(12, total_h)
    put(left, 5.7, pos["fl"], "Fluorescence", angle=math.pi / 2, align="center")
    rich_v(left, 7, pos["rl"], ratio_parts)
    tstrip = strip(358, th)
    rich(tstrip, tx, pos["ty"], title)
    right = strip(68, total_h - th)
    put(right, legx, pos["acc"], "Acceptor (a)", color=GREEN_T, size=9.5)
    put(right, legx, pos["don"], "Donor (d)", color=BLUE_T, size=9.5)
    put(right, legx, pos["fs"], "FRET-signal", color="#666666", size=9.5)
    put(right, 44, pos["let"], letter, size=14)
    return row(box(left), column(box(tstrip), row(column(up, lo), box(right))), styles=BOX)


POS_C = {"fl": 42, "rl": 94.3, "ty": 9.7, "acc": 21.7, "don": 33.3, "fs": 78.3, "let": 115.3}
POS_E = {"fl": 33, "rl": 84.7, "ty": 5.5, "acc": 17.3, "don": 29.3, "fs": 75.7, "let": 119}
POS_F = {"fl": 33, "rl": 84.7, "ty": 5.5, "acc": 18.3, "don": 30.7, "fs": 75, "let": 118.3}

panel_c = fret_panel("twitch", title_parts("phFRET \u2013 lactate \u2013 Twitch-2B \u2013 measured", 5), 1.3,
                     C_DON, C_DON_SE, C_ACC, C_ACC_SE, C_RATIO, AD, "(c)", 5.7, POS_C)
panel_d = fret_panel("twitch", title_parts("phFRET \u2013 lactate \u2013 Twitch-2B \u2013 corrected", 5), 1.3,
                     D_DON, D_DON_SE, D_ACC, D_ACC_SE, D_RATIO, AD, "(d)", 3.3, POS_C)
panel_e = fret_panel("laconic", title_parts("phFRET \u2013 lactate \u2013 Laconic \u2013 measured", 8), 0.7,
                     E_DON, E_DON_SE, E_ACC, E_ACC_SE, E_RATIO, DA, "(e)", 5.7, POS_E)
panel_f = fret_panel("laconic", title_parts("phFRET \u2013 lactate \u2013 Laconic \u2013 corrected", 8), 0.2,
                     F_DON, F_DON_SE, F_ACC, F_ACC_SE, F_RATIO, DA, "(f)", 3.3, POS_F)

root = column(row(panel_a, panel_b, spacing=8),
              row(panel_c, panel_d, spacing=8),
              row(panel_e, panel_f, spacing=8),
              spacing=10, styles={"margin-left": "3px", "margin-top": "3px"})

open("out.html", "w").write(file_html(root, INLINE))
